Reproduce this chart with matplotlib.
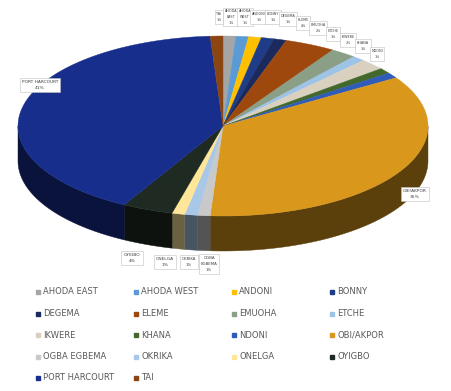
import numpy as np
import matplotlib
matplotlib.use("Agg")
import matplotlib.pyplot as plt
from matplotlib.patches import Polygon
from matplotlib.colors import to_rgb

categories = ["AHODA EAST", "AHODA WEST", "ANDONI", "BONNY", "DEGEMA", "ELEME",
              "EMUOHA", "ETCHE", "IKWERE", "KHANA", "NDONI", "OBI/AKPOR",
              "OGBA EGBEMA", "OKRIKA", "ONELGA", "OYIGBO", "PORT HARCOURT", "TAI"]
values = [1, 1, 1, 1, 1, 4, 2, 1, 2, 1, 1, 35, 1, 1, 1, 4, 41, 1]
colors = ["#A5A5A5", "#5B9BD5", "#FFC000", "#1F3C88", "#1A2A5C", "#9E480E",
          "#8A9F86", "#9DC3E6", "#D9D0C0", "#43682B", "#2E5CB8", "#D9981C",
          "#C9C9C9", "#A9C8E8", "#FFE699", "#1E2A22", "#172E8C", "#8B4513"]

# label anchor positions (layout, in pixel coords)
label_pos = {
    "TAI": (219, 17), "AHODA EAST": (231, 17), "AHODA WEST": (245, 17),
    "ANDONI": (259, 17), "BONNY": (273, 17), "DEGEMA": (288, 19),
    "ELEME": (303, 23), "EMUOHA": (318, 28), "ETCHE": (333, 34),
    "IKWERE": (348, 40), "KHANA": (363, 46), "NDONI": (377, 54),
    "OBI/AKPOR": (415, 194), "OGBA EGBEMA": (209, 264), "OKRIKA": (189, 262),
    "ONELGA": (165, 262), "OYIGBO": (132, 258), "PORT HARCOURT": (40, 85),
}
small_labels = {"AHODA EAST", "AHODA WEST", "ANDONI", "BONNY", "DEGEMA", "ELEME",
                "EMUOHA", "ETCHE", "IKWERE", "KHANA", "NDONI", "TAI"}

W, H = 451, 391
fig = plt.figure(figsize=(W / 100, H / 100), dpi=100)
ax = fig.add_axes([0, 0, 1, 1])
ax.set_xlim(0, W)
ax.set_ylim(H, 0)
ax.axis("off")

cx, cy, a, b, depth = 223, 126, 205, 90, 35

def pt(t):
    return cx + a * np.cos(t), cy - b * np.sin(t)

total = float(sum(values))
angles = []
start = np.pi / 2
for v in values:
    span = 2 * np.pi * v / total
    angles.append((start, start - span))
    start -= span

def darker(c, f=0.42):
    r, g, bb = to_rgb(c)
    return (r * f, g * f, bb * f)

# side walls (front half visible)
for (t1, t2), c in zip(angles, colors):
    lo, hi = t2, t1
    for k in range(-2, 3):
        vlo, vhi = -np.pi + 2 * np.pi * k, 2 * np.pi * k
        s, e = max(lo, vlo), min(hi, vhi)
        if e > s:
            ts = np.linspace(s, e, 80)
            xs, ys = pt(ts)
            poly = np.column_stack([np.concatenate([xs, xs[::-1]]),
                                    np.concatenate([ys, ys[::-1] + depth])])
            ax.add_patch(Polygon(poly, closed=True, facecolor=darker(c),
                                 edgecolor=darker(c), lw=0.3, zorder=1))

# top surface
for (t1, t2), c in zip(angles, colors):
    ts = np.linspace(t1, t2, max(4, int(abs(t1 - t2) * 60)))
    xs, ys = pt(ts)
    poly = np.column_stack([np.concatenate([[cx], xs]), np.concatenate([[cy], ys])])
    ax.add_patch(Polygon(poly, closed=True, facecolor=c, edgecolor=c,
                         lw=0.3, zorder=2))

# data labels
for name, v in zip(categories, values):
    x, y = label_pos[name]
    pct = int(round(100 * v / total))
    if name in small_labels:
        txt = name.replace(" ", "\n") + f"\n{pct}%"
        fs = 2.4
    elif name in ("OGBA EGBEMA", "OKRIKA"):
        txt = name.replace(" ", "\n") + f"\n{pct}%"
        fs = 2.8
    else:
        txt = f"{name}\n{pct}%"
        fs = 3.2
    ax.text(x, y, txt, fontsize=fs, color="#404040",
            ha="center", va="center", linespacing=1.6, zorder=5,
            bbox=dict(boxstyle="square,pad=0.5", fc="white", ec="#BFBFBF", lw=0.4))

# legend (row-wise)
for i, (name, c) in enumerate(zip(categories, colors)):
    r, col = divmod(i, 4)
    x = 38 + col * 98
    y = 292 + r * 21.5
    ax.plot([x], [y], marker="s", ms=2.6, color=c, mec=c, zorder=5)
    ax.text(x + 5, y, name, fontsize=6, color="#595959", ha="left",
            va="center", zorder=5)

fig.savefig("out.png", dpi=100)
